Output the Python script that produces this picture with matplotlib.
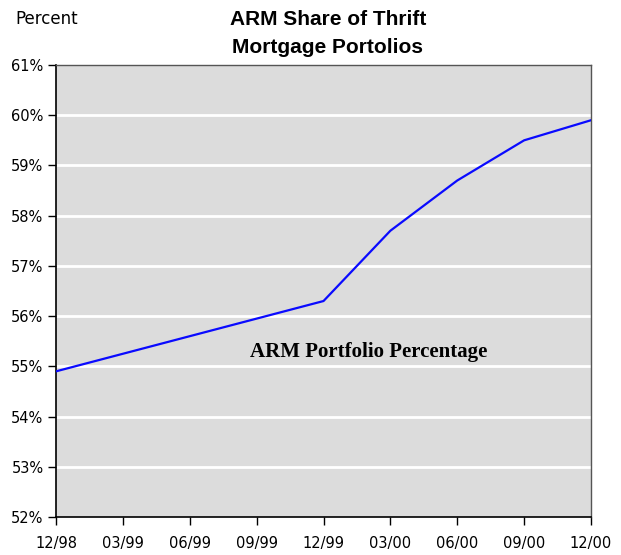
import matplotlib.pyplot as plt

quarters = ['12/98', '03/99', '06/99', '09/99', '12/99', '03/00', '06/00', '09/00', '12/00']
data_pos = [0, 4, 5, 6, 7, 8]
arm_share = [54.9, 56.3, 57.7, 58.7, 59.5, 59.9]
y_ticks = [52, 53, 54, 55, 56, 57, 58, 59, 60, 61]

fig = plt.figure(figsize=(6.21, 5.55), dpi=100)
ax = fig.add_axes([0.0902, 0.0685, 0.8615, 0.8144])
ax.set_facecolor('#dcdcdc')

for y in y_ticks[1:-1]:
    ax.axhline(y, color='white', lw=2, zorder=1)

ax.plot(data_pos, arm_share, color='#0a0aff', lw=1.6, zorder=3)

ax.set_xlim(0, 8)
ax.set_ylim(52, 61)
ax.set_xticks(range(len(quarters)))
ax.set_xticklabels(quarters, fontsize=10.5)
ax.set_yticks(y_ticks)
ax.set_yticklabels([f'{v}%' for v in y_ticks], fontsize=10.5)
ax.tick_params(axis='x', length=6, width=1, pad=8, color='black')
ax.tick_params(axis='y', length=6, width=1, pad=3, color='black')

for s in ['left', 'bottom']:
    ax.spines[s].set_color('black')
    ax.spines[s].set_linewidth(1.2)
for s in ['top', 'right']:
    ax.spines[s].set_color('#555555')
    ax.spines[s].set_linewidth(1)

ax.text(0.585, 0.366, 'ARM Portfolio Percentage', transform=ax.transAxes,
        ha='center', va='center', family='Liberation Serif', fontweight='bold', fontsize=15)

fig.text(0.528, 0.965, 'ARM Share of Thrift', ha='center', va='center',
         family='Liberation Sans', fontweight='bold', fontsize=15)
fig.text(0.528, 0.915, 'Mortgage Portolios', ha='center', va='center',
         family='Liberation Sans', fontweight='bold', fontsize=15)
fig.text(0.024, 0.965, 'Percent', ha='left', va='center', fontsize=12)

fig.savefig('out.png', dpi=100)
